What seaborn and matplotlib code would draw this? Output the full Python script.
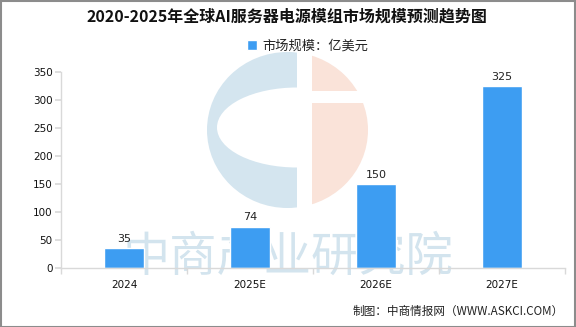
import matplotlib
matplotlib.use("Agg")
import matplotlib.pyplot as plt
from matplotlib.patches import Ellipse, Rectangle
import seaborn as sns
import pandas as pd

years = ["2024", "2025E", "2026E", "2027E"]
market_size = [35, 74, 150, 325]
y_ticks = [0, 50, 100, 150, 200, 250, 300, 350]
title_text = "2020-2025年全球AI服务器电源模组市场规模预测趋势图"
legend_label = "市场规模：亿美元"
source_text = "制图：中商情报网（WWW.ASKCI.COM）"
watermark_text = "中商产业研究院"

sns.set_theme(style="white")
plt.rcParams["font.family"] = ["Noto Sans CJK SC", "DejaVu Sans"]

BAR = "#3D9DF2"
W, H = 576, 327
fig = plt.figure(figsize=(W / 100, H / 100), dpi=100)
fig.patch.set_facecolor("white")

# background layer in pixel coordinates (watermark logo + text)
bg = fig.add_axes([0, 0, 1, 1], zorder=0)
bg.set_xlim(0, W)
bg.set_ylim(H, 0)
bg.axis("off")

blue_wm = "#D4E5EF"
pink_wm = "#FAE3D9"
cx, cy, rx, ry = 287.5, 130, 80.5, 78
e1 = Ellipse((cx, cy), 2 * rx, 2 * ry, color=blue_wm, lw=0)
bg.add_patch(e1)
e1.set_clip_path(Rectangle((200, 40), 97, 180, transform=bg.transData))
inner = Ellipse((297, 127.5), 160, 80, color="white", lw=0)
bg.add_patch(inner)
inner.set_clip_path(Rectangle((200, 40), 97, 180, transform=bg.transData))
e2 = Ellipse((cx, cy), 2 * rx, 2 * ry, color=pink_wm, lw=0)
bg.add_patch(e2)
e2.set_clip_path(Rectangle((312, 40), 70, 180, transform=bg.transData))
bg.add_patch(Rectangle((310, 91), 70, 12, color="white", lw=0))
bg.text(288, 258, watermark_text, ha="center", va="center", fontsize=34,
        fontweight="medium", color="#D3E4EE")

# main chart
ax = fig.add_axes([61 / W, (H - 268) / H, (565 - 61) / W, (268 - 72) / H], zorder=2)
ax.set_facecolor("none")
df = pd.DataFrame({"year": years, "value": market_size})
sns.barplot(data=df, x="year", y="value", color=BAR, width=0.31, ax=ax,
            saturation=1, label=legend_label)
ax.set_xlim(-0.5, len(years) - 0.5)
ax.set_ylim(0, 350)
ax.set_yticks(y_ticks)
ax.set_xlabel("")
ax.set_ylabel("")

for i, v in enumerate(market_size):
    ax.text(i, v + 8, f"{v}", ha="center", va="bottom", fontsize=8, color="#222222",
            family="DejaVu Sans")

for s in ["top", "right"]:
    ax.spines[s].set_visible(False)
for s in ["left", "bottom"]:
    ax.spines[s].set_color("#D9D9D9")
    ax.spines[s].set_linewidth(1)

ax.tick_params(axis="y", left=True, length=4, color="#D9D9D9", labelsize=7.5,
               labelcolor="#111111", pad=2)
ax.tick_params(axis="x", bottom=False, length=0, labelsize=7.5, labelcolor="#111111", pad=9)
ax.set_xticks([i - 0.5 for i in range(len(years) + 1)], minor=True)
ax.tick_params(axis="x", which="minor", bottom=True, length=4, color="#D9D9D9")
for lab in ax.get_yticklabels() + ax.get_xticklabels():
    lab.set_family("DejaVu Sans")

leg = ax.legend(loc="center", bbox_to_anchor=(0.489, 1.133), frameon=False,
                fontsize=9.5, handlelength=0.75, handleheight=0.75, handletextpad=0.4)
for t in leg.get_texts():
    t.set_color("#222222")

fig.text(287 / W, 1 - 17 / H, title_text, ha="center", va="center", fontsize=11.5,
         fontweight="bold", color="#111111")
fig.text(564 / W, 1 - 311 / H, source_text, ha="right", va="center", fontsize=8.4,
         color="#222222")

# outer frame
fig.patches.append(Rectangle((0.5 / W, 0.5 / H), 1 - 1.5 / W, 1 - 1.5 / H,
                             transform=fig.transFigure, fill=False,
                             edgecolor="#8C8C8C", lw=1.5))

fig.savefig("out.png", dpi=100)
